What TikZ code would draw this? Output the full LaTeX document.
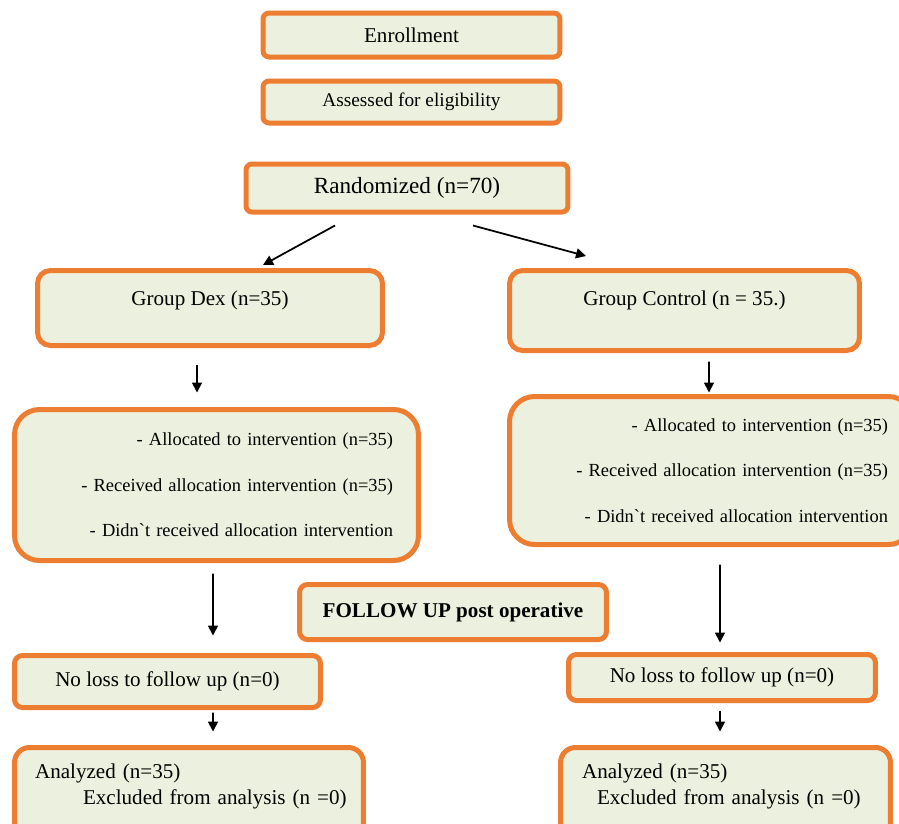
\documentclass[tikz,border=0pt]{standalone}
\usepackage{fontspec}
\setmainfont{Liberation Serif}
\usetikzlibrary{arrows.meta}
\usepackage{xcolor}
\definecolor{cborange}{HTML}{ED7D31}
\definecolor{cbfill}{HTML}{EBF1DE}
\tikzset{
  box/.style={draw=cborange, fill=cbfill, line width=0.1cm, rounded corners=#1,
              inner sep=0pt, font=\fontsize{12}{14.5}\selectfont},
  box/.default=0.12cm,
  arr/.style={-{Triangle[length=0.2cm,width=0.2cm]}, line width=0.035cm, black}
}
\begin{document}
\begin{tikzpicture}[x=0.02cm, y=-0.02cm]
    \clip (0,0) rectangle (899,823);
    % ENROLLMENT
    \node[box, minimum width=5.94cm, minimum height=0.88cm] (enrol) at (411.5,35) {Enrollment};
    \node[box, minimum width=5.94cm, minimum height=0.84cm,
          font=\fontsize{11}{13}\selectfont] (assess) at (411.5,102) {Assessed for eligibility};
    \node[box, minimum width=6.44cm, minimum height=0.96cm,
          font=\fontsize{13.2}{15.8}\selectfont] (rand) at (407,188) {Randomized (n=70)};
    % GROUPS
    \node[box=0.26cm, minimum width=6.9cm, minimum height=1.5cm,
          text depth=0.41cm] (gdex) at (210,308) {Group Dex (n=35)};
    \node[box=0.26cm, minimum width=7cm, minimum height=1.6cm,
          text depth=0.51cm] (gcon) at (684.5,310.5) {Group Control (n = 35.)};
    \draw[arr] ([shift={(-72,11)}]rand.south) -- ([shift={(53,-3)}]gdex.north);
    \draw[arr] ([shift={(66,11)}]rand.south) -- ([shift={(-98.5,-12)}]gcon.north);
    % ALLOCATION
    \node[box=0.5cm, minimum height=3.02cm, text width=7.06cm, inner xsep=0.51cm, align=right,
          font=\fontsize{10.5}{12.6}\selectfont] (allocL) at (216.5,485)
      {- Allocated to intervention (n=35)\\[0.47cm]
       - Received allocation intervention (n=35)\\[0.47cm]
       - Didn\textasciigrave t received allocation intervention};
    \node[box=0.5cm, minimum height=2.96cm, text width=7.06cm, inner xsep=0.51cm, align=right,
          font=\fontsize{10.5}{12.6}\selectfont] (allocR) at (711.5,470.5)
      {- Allocated to intervention (n=35)\\[0.47cm]
       - Received allocation intervention (n=35)\\[0.47cm]
       - Didn\textasciigrave t received allocation intervention};
    \draw[arr] ([shift={(-13,16.5)}]gdex.south) -- ([shift={(-19.5,-14.5)}]allocL.north);
    \draw[arr] ([shift={(24.5,8.5)}]gcon.south) -- ([shift={(-2.5,-1.5)}]allocR.north);
    % FOLLOW UP
    \node[box=0.16cm, minimum width=6.14cm, minimum height=1.1cm,
          font=\bfseries\fontsize{12}{14.5}\selectfont] (follow) at (453,612) {FOLLOW UP post operative};
    \node[box=0.16cm, minimum width=6.12cm, minimum height=1.04cm] (lossL) at (167.5,681.5) {No loss to follow up (n=0)};
    \node[box=0.16cm, minimum width=6.14cm, minimum height=0.92cm] (lossR) at (722,677.5) {No loss to follow up (n=0)};
    \draw[arr] ([shift={(-3.5,10.5)}]allocL.south) -- ([shift={(45.5,-17.5)}]lossL.north);
    \draw[arr] ([shift={(8.5,17.5)}]allocR.south) -- ([shift={(-2,-9.5)}]lossR.north);
    % ANALYSIS
    \node[box=0.3cm, minimum height=2cm, text width=6.16cm, inner xsep=0.41cm, align=left,
          text depth=1.04cm] (anaL) at (189,797.5)
      {Analyzed (n=35)\\\hspace*{0.96cm}\mbox{Excluded from analysis (n =0)}};
    \node[box=0.3cm, minimum height=2cm, text width=5.74cm, inner xsep=0.43cm, align=left,
          text depth=1.04cm] (anaR) at (725.5,797.5)
      {Analyzed (n=35)\\\hspace*{0.3cm}\mbox{Excluded from analysis (n =0)}};
    \draw[arr] ([shift={(45.5,2.5)}]lossL.south) -- ([shift={(24,-13.5)}]anaL.north);
    \draw[arr] ([shift={(-2,7.5)}]lossR.south) -- ([shift={(-5.5,-13.5)}]anaR.north);
\end{tikzpicture}
\end{document}
